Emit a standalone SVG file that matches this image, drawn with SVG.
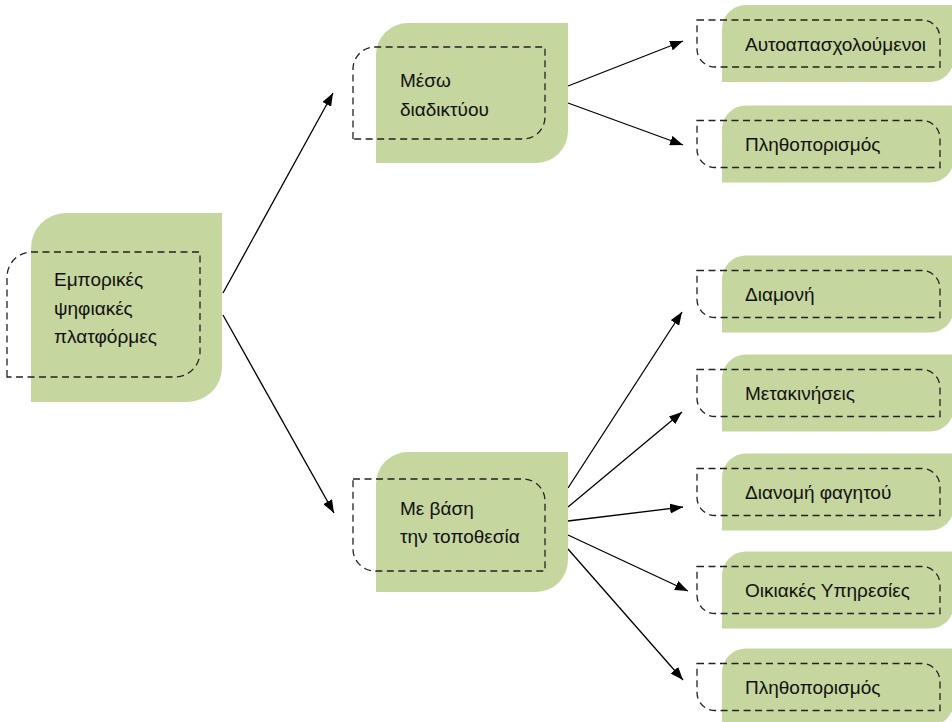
<svg xmlns="http://www.w3.org/2000/svg" width="952" height="722" viewBox="0 0 952 722">
<style>
.g{fill:#c6d69f;stroke:none}
.d{fill:none;stroke:#222;stroke-width:1.3;stroke-dasharray:7 4.5}
.t{font-family:"Liberation Sans",Arial,sans-serif;font-size:19px;fill:#111}
.c{stroke:#000;stroke-width:1.3;fill:none;marker-end:url(#ah)}
</style>
<defs>
<marker id="ah" markerUnits="userSpaceOnUse" markerWidth="13" markerHeight="10" refX="13" refY="5" orient="auto">
<path d="M0,0 L13,5 L0,10 Z" fill="#000"/>
</marker>
<path id="rg" d="M722,38.5 V-14.5 A24,24 0 0 1 746,-38.5 H954 V14.5 A24,24 0 0 1 930,38.5 Z"/>
<path id="rd" d="M697,-23.5 H922 A18,18 0 0 1 940,-5.5 V23.5 H715 A18,18 0 0 1 697,5.5 Z"/>
</defs>
<rect width="952" height="722" fill="#fff"/>
<g id="connectors">
<line class="c" x1="223" y1="293" x2="333" y2="93"/>
<line class="c" x1="223" y1="315" x2="334" y2="513"/>
<line class="c" x1="568" y1="86" x2="683" y2="41"/>
<line class="c" x1="568" y1="103" x2="683" y2="145"/>
<line class="c" x1="568" y1="488" x2="682" y2="312"/>
<line class="c" x1="568" y1="507" x2="682" y2="412"/>
<line class="c" x1="568" y1="521" x2="683" y2="507"/>
<line class="c" x1="568" y1="535" x2="688" y2="591"/>
<line class="c" x1="568" y1="549" x2="683" y2="680"/>
</g>
<g id="n-root">
<path class="g" d="M31,402 V248 A35,35 0 0 1 66,213 H222 V367 A35,35 0 0 1 187,402 Z"/>
<path class="d" d="M7,377 V277 A25,25 0 0 1 32,252 H200 V352 A25,25 0 0 1 175,377 Z"/>
<text class="t" x="54" y="286">Εμπορικές</text>
<text class="t" x="54" y="314.5">ψηφιακές</text>
<text class="t" x="54" y="343">πλατφόρμες</text>
</g>
<g id="n-online">
<path class="g" d="M376,163 V55 A32,32 0 0 1 408,23 H568 V131 A32,32 0 0 1 536,163 Z"/>
<path class="d" d="M353,139 V69 A22,22 0 0 1 375,47 H545 V117 A22,22 0 0 1 523,139 Z"/>
<text class="t" x="400" y="87">Μέσω</text>
<text class="t" x="400" y="116">διαδικτύου</text>
</g>
<g id="n-location">
<path class="g" d="M376,592 V484 A32,32 0 0 1 408,452 H568 V560 A32,32 0 0 1 536,592 Z"/>
<path class="d" d="M353,479 H523 A22,22 0 0 1 545,501 V571 H375 A22,22 0 0 1 353,549 Z"/>
<text class="t" x="400" y="515">Με βάση</text>
<text class="t" x="400" y="543">την τοποθεσία</text>
</g>
<g id="n-self" transform="translate(0,43.5)">
<use href="#rg" class="g"/><use href="#rd" class="d"/>
<text class="t" x="745" y="7">Αυτοαπασχολούμενοι</text>
</g>
<g id="n-crowd1" transform="translate(0,144)">
<use href="#rg" class="g"/><use href="#rd" class="d"/>
<text class="t" x="745" y="7">Πληθοπορισμός</text>
</g>
<g id="n-stay" transform="translate(0,294)">
<use href="#rg" class="g"/><use href="#rd" class="d"/>
<text class="t" x="745" y="7">Διαμονή</text>
</g>
<g id="n-move" transform="translate(0,393)">
<use href="#rg" class="g"/><use href="#rd" class="d"/>
<text class="t" x="745" y="7">Μετακινήσεις</text>
</g>
<g id="n-food" transform="translate(0,492)">
<use href="#rg" class="g"/><use href="#rd" class="d"/>
<text class="t" x="745" y="7">Διανομή φαγητού</text>
</g>
<g id="n-home" transform="translate(0,590)">
<use href="#rg" class="g"/><use href="#rd" class="d"/>
<text class="t" x="745" y="7">Οικιακές Υπηρεσίες</text>
</g>
<g id="n-crowd2" transform="translate(0,687)">
<use href="#rg" class="g"/><use href="#rd" class="d"/>
<text class="t" x="745" y="7">Πληθοπορισμός</text>
</g>
</svg>
